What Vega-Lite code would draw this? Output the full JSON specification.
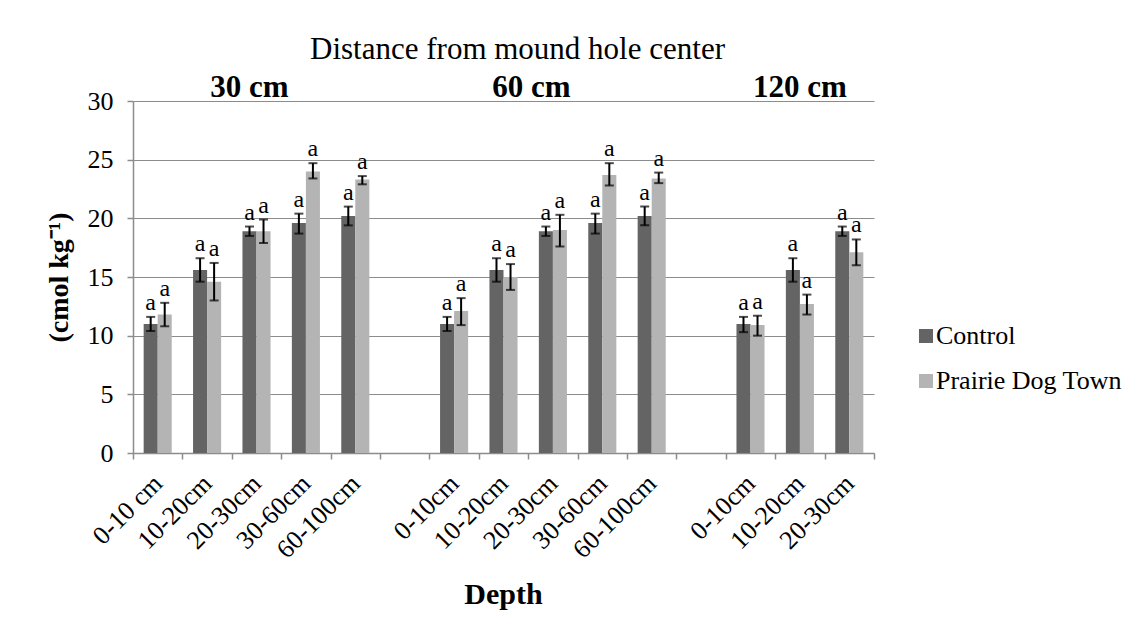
{
  "$schema": "https://vega.github.io/schema/vega-lite/v6.json",
  "width": 741,
  "height": 352,
  "autosize": {"type": "none"},
  "padding": {"left": 133, "top": 101, "right": 267, "bottom": 188},
  "background": "white",
  "title": {"text": "Distance from mound hole center", "font": "Liberation Serif", "fontSize": 31, "fontWeight": "normal", "color": "black", "anchor": "middle", "frame": "group", "dx": 14, "dy": 30, "offset": 12, "baseline": "alphabetic"},
  "config": {
    "view": {"stroke": null},
    "font": "Liberation Serif",
    "axis": {"labelFont": "Liberation Serif", "titleFont": "Liberation Serif", "labelColor": "black", "titleColor": "black", "domainColor": "#8c8c8c", "domainWidth": 1.5, "tickColor": "#8c8c8c", "tickWidth": 1.5, "gridColor": "#8c8c8c", "gridWidth": 1.2}
  },
  "datasets": {
    "bars": [
      {"cat": "A|0-10 cm", "trt": "Control", "v": 11.0, "lo": 10.4, "hi": 11.6, "sig": "a"},
      {"cat": "A|0-10 cm", "trt": "Prairie Dog Town", "v": 11.8, "lo": 10.8, "hi": 12.8, "sig": "a"},
      {"cat": "A|10-20cm", "trt": "Control", "v": 15.6, "lo": 14.6, "hi": 16.6, "sig": "a"},
      {"cat": "A|10-20cm", "trt": "Prairie Dog Town", "v": 14.6, "lo": 13.0, "hi": 16.2, "sig": "a"},
      {"cat": "A|20-30cm", "trt": "Control", "v": 18.9, "lo": 18.5, "hi": 19.3, "sig": "a"},
      {"cat": "A|20-30cm", "trt": "Prairie Dog Town", "v": 18.9, "lo": 17.9, "hi": 19.9, "sig": "a"},
      {"cat": "A|30-60cm", "trt": "Control", "v": 19.6, "lo": 18.7, "hi": 20.4, "sig": "a"},
      {"cat": "A|30-60cm", "trt": "Prairie Dog Town", "v": 24.0, "lo": 23.4, "hi": 24.7, "sig": "a"},
      {"cat": "A|60-100cm", "trt": "Control", "v": 20.2, "lo": 19.4, "hi": 21.0, "sig": "a"},
      {"cat": "A|60-100cm", "trt": "Prairie Dog Town", "v": 23.3, "lo": 22.9, "hi": 23.6, "sig": "a"},
      {"cat": "B|0-10cm", "trt": "Control", "v": 11.0, "lo": 10.4, "hi": 11.6, "sig": "a"},
      {"cat": "B|0-10cm", "trt": "Prairie Dog Town", "v": 12.1, "lo": 10.9, "hi": 13.2, "sig": "a"},
      {"cat": "B|10-20cm", "trt": "Control", "v": 15.6, "lo": 14.6, "hi": 16.6, "sig": "a"},
      {"cat": "B|10-20cm", "trt": "Prairie Dog Town", "v": 15.0, "lo": 13.9, "hi": 16.1, "sig": "a"},
      {"cat": "B|20-30cm", "trt": "Control", "v": 18.9, "lo": 18.5, "hi": 19.3, "sig": "a"},
      {"cat": "B|20-30cm", "trt": "Prairie Dog Town", "v": 19.0, "lo": 17.6, "hi": 20.3, "sig": "a"},
      {"cat": "B|30-60cm", "trt": "Control", "v": 19.6, "lo": 18.7, "hi": 20.4, "sig": "a"},
      {"cat": "B|30-60cm", "trt": "Prairie Dog Town", "v": 23.7, "lo": 22.8, "hi": 24.7, "sig": "a"},
      {"cat": "B|60-100cm", "trt": "Control", "v": 20.2, "lo": 19.4, "hi": 21.0, "sig": "a"},
      {"cat": "B|60-100cm", "trt": "Prairie Dog Town", "v": 23.4, "lo": 23.0, "hi": 23.9, "sig": "a"},
      {"cat": "C|0-10cm", "trt": "Control", "v": 11.0, "lo": 10.3, "hi": 11.6, "sig": "a"},
      {"cat": "C|0-10cm", "trt": "Prairie Dog Town", "v": 10.9, "lo": 10.0, "hi": 11.7, "sig": "a"},
      {"cat": "C|10-20cm", "trt": "Control", "v": 15.6, "lo": 14.6, "hi": 16.6, "sig": "a"},
      {"cat": "C|10-20cm", "trt": "Prairie Dog Town", "v": 12.7, "lo": 11.8, "hi": 13.5, "sig": "a"},
      {"cat": "C|20-30cm", "trt": "Control", "v": 18.9, "lo": 18.5, "hi": 19.3, "sig": "a"},
      {"cat": "C|20-30cm", "trt": "Prairie Dog Town", "v": 17.1, "lo": 16.0, "hi": 18.2, "sig": "a"}
    ],
    "heads": [
      {"cat": "A|20-30cm", "label": "30 cm"},
      {"cat": "B|10-20cm", "label": "60 cm"},
      {"cat": "C|10-20cm", "label": "120 cm"}
    ]
  },
  "data": {"name": "bars"},
  "encoding": {
    "x": {
      "field": "cat", "type": "nominal",
      "scale": {"domain": ["A|0-10 cm", "A|10-20cm", "A|20-30cm", "A|30-60cm", "A|60-100cm", "gap1", "B|0-10cm", "B|10-20cm", "B|20-30cm", "B|30-60cm", "B|60-100cm", "gap2", "C|0-10cm", "C|10-20cm", "C|20-30cm"], "paddingInner": 0, "paddingOuter": 0},
      "axis": {"title": "Depth", "titleFontSize": 30, "titleFontWeight": "bold", "titleX": 370, "titleY": 126, "titleBaseline": "top", "labelExpr": "isString(datum.value) && indexof(datum.value, '|') >= 0 ? slice(datum.value, 2) : ''", "labelAngle": -45, "labelAlign": "right", "labelBaseline": "middle", "labelFont": "Liberation Serif", "labelFontSize": 26, "labelPadding": 20, "tickBand": "extent", "tickSize": 6, "grid": false, "labelOverlap": false}
    }
  },
  "layer": [
    {
      "mark": {"type": "bar"},
      "encoding": {
        "xOffset": {"field": "trt", "type": "nominal", "scale": {"domain": ["Control", "Prairie Dog Town"], "paddingInner": 0, "paddingOuter": 0.76}},
        "y": {"field": "v", "type": "quantitative", "scale": {"domain": [0, 30], "nice": false},
          "axis": {"title": "(cmol kg⁻¹)", "titleFontSize": 28, "titleFontWeight": "bold", "titleX": -60, "titleY": 176, "titleAlign": "center", "values": [0, 5, 10, 15, 20, 25, 30], "labelFont": "Liberation Serif", "labelFontSize": 26, "labelPadding": 14, "tickSize": 6, "grid": true}},
        "color": {"field": "trt", "type": "nominal", "scale": {"domain": ["Control", "Prairie Dog Town"], "range": ["#646464", "#b4b4b4"]},
          "legend": {"title": null, "orient": "none", "legendX": 780, "legendY": 222, "symbolType": "square", "symbolSize": 196, "symbolStrokeWidth": 0, "labelFont": "Liberation Serif", "labelFontSize": 26, "labelColor": "black", "labelOffset": -3, "labelLimit": 0, "rowPadding": 19, "padding": 0}}
      }
    },
    {
      "mark": {"type": "rule", "color": "black", "strokeWidth": 2},
      "encoding": {
        "xOffset": {"field": "trt", "type": "nominal"},
        "y": {"field": "lo", "type": "quantitative"},
        "y2": {"field": "hi"}
      }
    },
    {
      "mark": {"type": "tick", "color": "black", "thickness": 2, "size": 9},
      "encoding": {
        "xOffset": {"field": "trt", "type": "nominal"},
        "y": {"field": "lo", "type": "quantitative"}
      }
    },
    {
      "mark": {"type": "tick", "color": "black", "thickness": 2, "size": 9},
      "encoding": {
        "xOffset": {"field": "trt", "type": "nominal"},
        "y": {"field": "hi", "type": "quantitative"}
      }
    },
    {
      "mark": {"type": "text", "font": "Liberation Serif", "fontSize": 24, "color": "black", "baseline": "alphabetic", "dy": -7},
      "encoding": {
        "xOffset": {"field": "trt", "type": "nominal"},
        "y": {"field": "hi", "type": "quantitative"},
        "text": {"field": "sig"}
      }
    },
    {
      "data": {"name": "heads"},
      "transform": [{"filter": "datum.label == '30 cm'"}],
      "mark": {"type": "text", "font": "Liberation Serif", "fontSize": 31, "fontWeight": "bold", "color": "black", "baseline": "alphabetic", "dy": -4, "dx": -7},
      "encoding": {"y": {"datum": 30, "type": "quantitative"}, "text": {"field": "label"}}
    },
    {
      "data": {"name": "heads"},
      "transform": [{"filter": "datum.label == '60 cm'"}],
      "mark": {"type": "text", "font": "Liberation Serif", "fontSize": 31, "fontWeight": "bold", "color": "black", "baseline": "alphabetic", "dy": -4, "dx": 28},
      "encoding": {"y": {"datum": 30, "type": "quantitative"}, "text": {"field": "label"}}
    },
    {
      "data": {"name": "heads"},
      "transform": [{"filter": "datum.label == '120 cm'"}],
      "mark": {"type": "text", "font": "Liberation Serif", "fontSize": 31, "fontWeight": "bold", "color": "black", "baseline": "alphabetic", "dy": -4, "dx": 0},
      "encoding": {"y": {"datum": 30, "type": "quantitative"}, "text": {"field": "label"}}
    }
  ]
}
